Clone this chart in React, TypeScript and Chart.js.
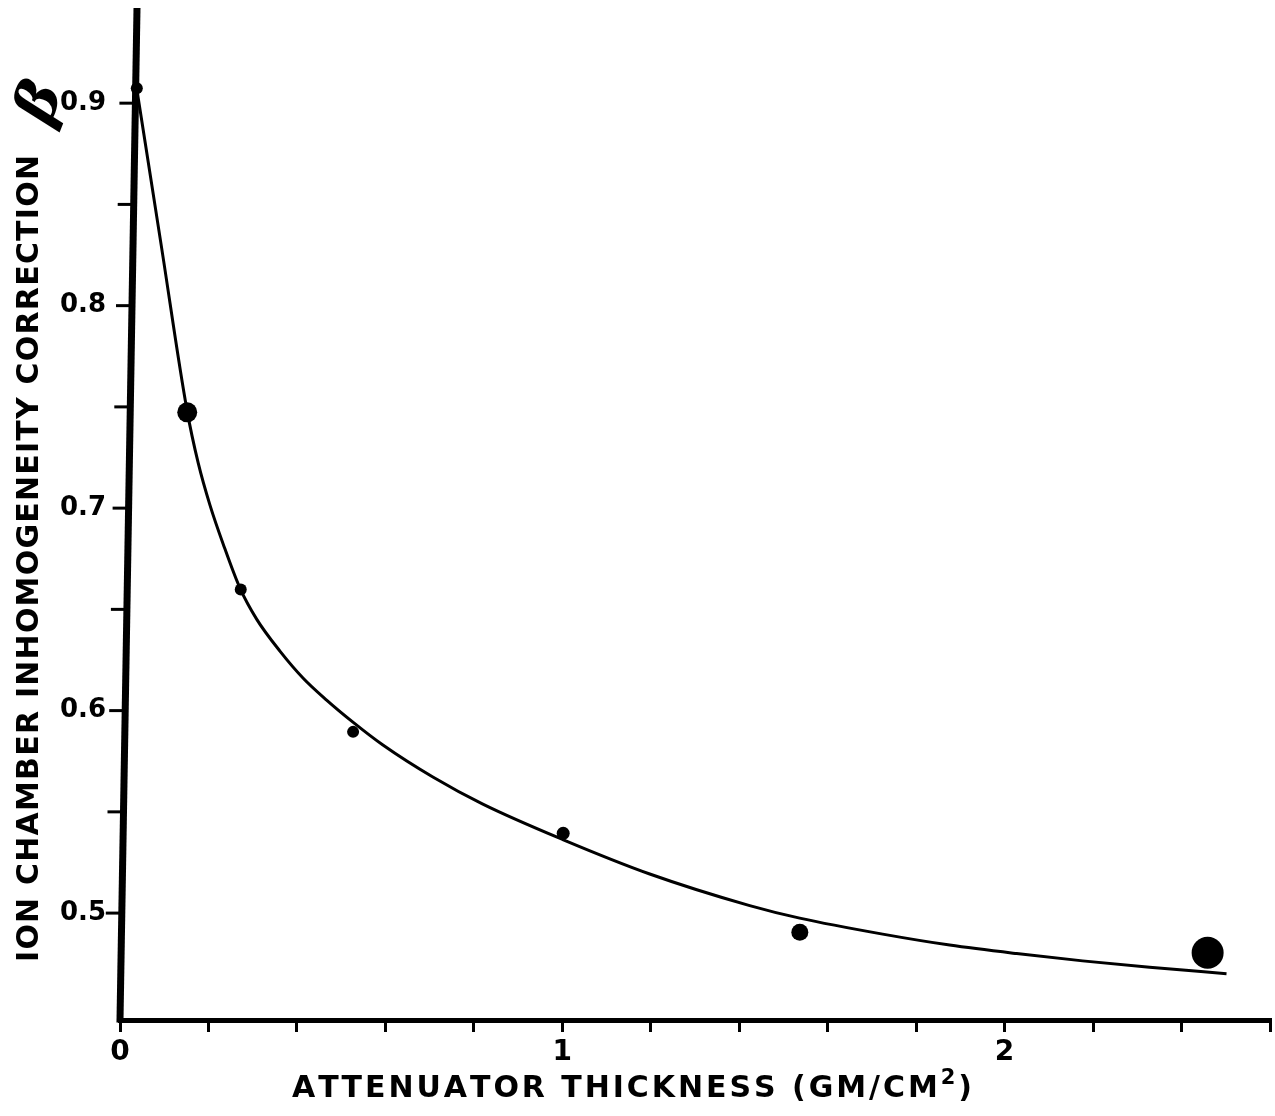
import React, { useEffect, useRef } from "react";
import { Chart, registerables } from "chart.js";

Chart.register(...registerables);

// Measured points (attenuator thickness g/cm², correction β)
const pointX = [0.038, 0.152, 0.273, 0.527, 1.002, 1.537, 2.459];
const pointY = [0.9074, 0.7473, 0.6598, 0.5895, 0.5394, 0.4905, 0.4804];
const markerRadius = [6, 10, 6, 6, 6.5, 8.5, 16];

// Hand-drawn fitted curve
const curveX = [0.0384, 0.0942, 0.1514, 0.1769, 0.2034, 0.2334, 0.2712, 0.3089, 0.3616, 0.4142, 0.4671, 0.5266, 0.5944, 0.7073, 0.8203, 1.0011, 1.1977, 1.4237, 1.5367, 1.7243, 1.8757, 2.0271, 2.1763, 2.3277, 2.5017];
const curveY = [0.9064, 0.8284, 0.7484, 0.7222, 0.7015, 0.6822, 0.6605, 0.6452, 0.6294, 0.616, 0.6052, 0.5943, 0.583, 0.5672, 0.5538, 0.5363, 0.5193, 0.5037, 0.4975, 0.4896, 0.4842, 0.48, 0.4764, 0.4732, 0.4701];

const xTickValues = [0, 0.2, 0.4, 0.6, 0.8, 1, 1.2, 1.4, 1.6, 1.8, 2, 2.2, 2.4, 2.6];
const xTickLabels = ["0", "", "", "", "", "1", "", "", "", "", "2", "", "", ""];
const yTickValues = [0.5, 0.55, 0.6, 0.65, 0.7, 0.75, 0.8, 0.85, 0.9];
const yTickLabels = ["0.5", "", "0.6", "", "0.7", "", "0.8", "", "0.9"];

const xTitle = "ATTENUATOR THICKNESS (GM/CM";
const xTitleSup = "2";
const xTitleEnd = ")";
const yTitle = "ION CHAMBER INHOMOGENEITY CORRECTION";
const yTitleSymbol = "β";

const X_MIN = 0;
const X_MAX = 2.6;
const Y_MIN = 0.4472;
const Y_MAX = 0.947;

const W = 1275;
const H = 1116;
const PLOT = { left: 120, top: 8, right: 1270, bottom: 1020 };

const FONT = '"DejaVu Sans", "Liberation Sans", sans-serif';

type Run = { text: string; font: string; dy: number };

function drawRuns(ctx: CanvasRenderingContext2D, runs: Run[], x: number, y: number, target: number) {
  const glyphs: { ch: string; font: string; dy: number; w: number }[] = [];
  for (const r of runs) {
    ctx.font = r.font;
    for (const ch of Array.from(r.text)) {
      glyphs.push({ ch, font: r.font, dy: r.dy, w: ctx.measureText(ch).width });
    }
  }
  const natural = glyphs.reduce((a, g) => a + g.w, 0);
  const gap = glyphs.length > 1 ? (target - natural) / (glyphs.length - 1) : 0;
  let cx = x;
  ctx.textAlign = "left";
  ctx.textBaseline = "alphabetic";
  for (const g of glyphs) {
    ctx.font = g.font;
    ctx.fillText(g.ch, cx, y + g.dy);
    cx += g.w + gap;
  }
}

const decorPlugin = {
  id: "decor",
  afterLayout(chart: any) {
    // pin the plot area to the figure's frame
    const ca = chart.chartArea;
    Object.assign(ca, PLOT, { width: PLOT.right - PLOT.left, height: PLOT.bottom - PLOT.top });
    const xs = chart.scales.x;
    const ys = chart.scales.y;
    Object.assign(xs, {
      left: PLOT.left,
      right: PLOT.right,
      width: PLOT.right - PLOT.left,
      top: PLOT.bottom,
      bottom: H,
      height: H - PLOT.bottom,
    });
    Object.assign(ys, {
      left: 0,
      right: PLOT.left,
      width: PLOT.left,
      top: PLOT.top,
      bottom: PLOT.bottom,
      height: PLOT.bottom - PLOT.top,
    });
    xs.configure();
    ys.configure();
    xs._labelItems = null;
    xs._gridLineItems = null;
    ys._labelItems = null;
    ys._gridLineItems = null;
  },
  afterDraw(chart: any) {
    const { ctx, chartArea } = chart;
    const yScale = chart.scales.y;
    const lean = 17 / 1012;
    const axisX = (py: number) => chartArea.left + (chartArea.bottom - py) * lean;
    ctx.save();
    ctx.strokeStyle = "#000";
    ctx.fillStyle = "#000";
    // leaning hand-drawn y axis
    ctx.lineCap = "butt";
    ctx.lineWidth = 7;
    ctx.beginPath();
    ctx.moveTo(axisX(chartArea.bottom + 2.5), chartArea.bottom + 2.5);
    ctx.lineTo(axisX(chartArea.top), chartArea.top);
    ctx.stroke();
    ctx.lineWidth = 3;
    for (const v of yTickValues) {
      const py = yScale.getPixelForValue(v);
      const ax = axisX(py);
      ctx.beginPath();
      ctx.moveTo(ax - 16, py);
      ctx.lineTo(ax, py);
      ctx.stroke();
    }
    // x title
    drawRuns(
      ctx,
      [
        { text: xTitle, font: `bold 30px ${FONT}`, dy: 0 },
        { text: xTitleSup, font: `bold 21px ${FONT}`, dy: -13 },
        { text: xTitleEnd, font: `bold 30px ${FONT}`, dy: 0 },
      ],
      292,
      1097,
      680
    );
    // y title
    ctx.save();
    ctx.translate(38, 962);
    ctx.rotate(-Math.PI / 2);
    drawRuns(ctx, [{ text: yTitle, font: `bold 30px ${FONT}`, dy: 0 }], 0, 0, 807);
    ctx.restore();
    // beta symbol
    ctx.save();
    ctx.translate(42, 103);
    ctx.rotate(-1.2);
    ctx.font = 'italic bold 58px "DejaVu Serif", serif';
    ctx.textAlign = "center";
    ctx.textBaseline = "middle";
    ctx.fillText(yTitleSymbol, 0, 0);
    ctx.restore();
    ctx.restore();
  },
};

export default function App() {
  const canvasRef = useRef<HTMLCanvasElement | null>(null);

  useEffect(() => {
    const canvas = canvasRef.current;
    if (!canvas) return;
    const chart = new Chart(canvas, {
      type: "scatter",
      data: {
        datasets: [
          {
            label: "fit",
            data: curveX.map((x, i) => ({ x, y: curveY[i] })),
            showLine: true,
            borderColor: "#000",
            borderWidth: 3,
            pointRadius: 0,
            cubicInterpolationMode: "monotone",
          } as any,
          {
            label: "measured",
            data: pointX.map((x, i) => ({ x, y: pointY[i] })),
            backgroundColor: "#000",
            borderColor: "#000",
            borderWidth: 0,
            pointRadius: markerRadius,
          } as any,
        ],
      },
      options: {
        animation: false,
        responsive: false,
        devicePixelRatio: 1,
        layout: { padding: { top: 8, right: 5, left: 0, bottom: 0 } },
        plugins: { legend: { display: false }, tooltip: { enabled: false }, title: { display: false } },
        scales: {
          x: {
            type: "linear",
            min: X_MIN,
            max: X_MAX,
            afterBuildTicks: (s: any) => {
              s.ticks = xTickValues.map((value) => ({ value }));
            },
            afterFit: (s: any) => {
              s.height = H - PLOT.bottom;
            },
            ticks: {
              autoSkip: false,
              maxRotation: 0,
              minRotation: 0,
              padding: 4,
              color: "#000",
              font: { family: FONT, weight: "bold", size: 28 },
              callback: (_v: any, i: number) => xTickLabels[i],
            },
            grid: {
              drawOnChartArea: false,
              drawTicks: true,
              tickLength: 12,
              tickWidth: 3,
              tickColor: "#000",
              color: "#000",
              lineWidth: 3,
            },
            border: { display: true, color: "#000", width: 5 },
          },
          y: {
            type: "linear",
            min: Y_MIN,
            max: Y_MAX,
            afterBuildTicks: (s: any) => {
              s.ticks = yTickValues.map((value) => ({ value }));
            },
            afterFit: (s: any) => {
              s.width = PLOT.left;
            },
            ticks: {
              autoSkip: false,
              padding: 14,
              color: "#000",
              font: { family: FONT, weight: "bold", size: 26 },
              callback: (_v: any, i: number) => yTickLabels[i],
            },
            grid: { display: false, drawTicks: false },
            border: { display: false },
          },
        },
      } as any,
      plugins: [decorPlugin],
    });
    return () => chart.destroy();
  }, []);

  return (
    <div style={{ position: "absolute", left: 0, top: 0, width: W, height: H, background: "#fff" }}>
      <canvas ref={canvasRef} width={W} height={H} style={{ display: "block", width: W, height: H }} />
    </div>
  );
}
